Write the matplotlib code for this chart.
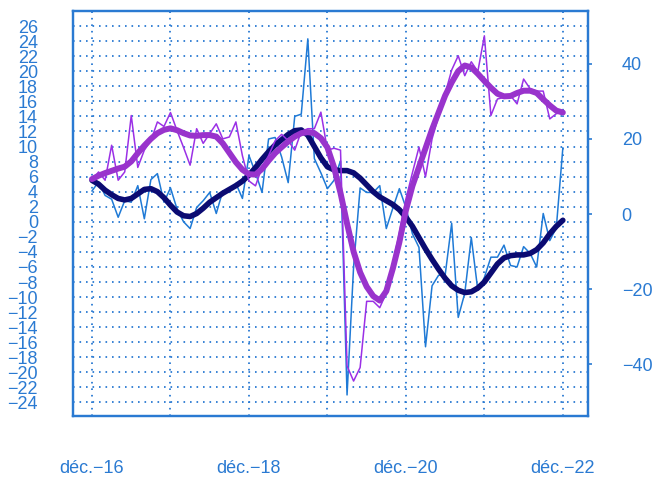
"""plot.py

Monthly balances (thin) and smoothed trends (thick), Dec-16 to Dec-22,
left scale for the blue series, right scale for the purple ones.
"""
import numpy as np
import matplotlib
matplotlib.use('Agg')
from matplotlib import pyplot as plt


#
# Parameters
#
colours = {'axis': '#2a7ad2',
           'blue': '#1f7ad6',
           'navy': '#0b0b72',
           'purple_thin': '#9b30e6',
           'purple_thick': '#9933cc'}
plt.rcParams['font.family'] = ['Liberation Sans', 'DejaVu Sans']


#
# Data (monthly, Dec-16 .. Dec-22)
#
months = np.arange(73)
year_ticks = [0, 24, 48, 72]
year_labels = [u'déc.\u221216', u'déc.\u221218', u'déc.\u221220', u'déc.\u221222']
odd_years = [12, 36, 60]

## Left scale
blue_monthly = [4.1, 5.3, 3.5, 3.0, 0.6, 2.8, 2.6, 4.8, 0.4, 5.6, 6.4, 2.6,
                4.5, 1.7, 0.0, -0.9, 1.9, 2.8, 3.9, 1.1, 4.1, 3.9, 5.1, 3.1,
                8.8, 6.5, 3.9, 11.0, 11.2, 8.6, 5.2, 14.0, 14.3, 24.3, 8.4, 6.5,
                4.4, 5.5, 8.1, -23.0, -6.0, 4.5, 3.9, 3.9, 4.8, -0.9, 1.8, 4.4,
                1.9, -1.6, -3.4, -16.6, -8.5, -7.1, -7.1, -0.2, -12.7, -9.5, -2.1, -9.1,
                -7.4, -4.7, -4.7, -3.1, -5.8, -6.0, -3.3, -4.2, -6.0, 1.1, -2.5, -0.8,
                9.8]
navy_trend = [5.5, 5.0, 4.2, 3.6, 3.1, 2.9, 3.1, 3.7, 4.3, 4.4, 4.0, 3.2,
              2.2, 1.3, 0.8, 0.7, 1.1, 1.8, 2.6, 3.2, 3.8, 4.3, 4.8, 5.4,
              6.2, 7.2, 8.3, 9.3, 10.2, 10.9, 11.6, 12.1, 12.2, 11.5, 10.0, 8.5,
              7.3, 6.9, 6.8, 6.8, 6.5, 5.8, 4.9, 4.0, 3.3, 2.8, 2.3, 1.6,
              0.6, -0.6, -2.1, -3.6, -5.0, -6.3, -7.5, -8.5, -9.1, -9.4, -9.3, -8.8,
              -8.0, -6.8, -5.6, -4.8, -4.5, -4.4, -4.4, -4.2, -3.7, -2.8, -1.6, -0.6,
              0.2]

## Right scale
purple_monthly = [9.0, 11.2, 9.0, 18.3, 9.0, 11.2, 26.2, 12.4, 17.0, 19.5, 24.5, 23.3,
                  27.0, 22.2, 17.7, 13.0, 22.7, 18.8, 21.4, 24.0, 20.0, 20.5, 24.5, 15.5,
                  8.8, 7.5, 12.5, 15.5, 19.5, 21.2, 19.5, 17.0, 22.0, 22.7, 22.7, 27.1,
                  17.0, 17.5, 17.0, -40.4, -44.4, -40.8, -23.2, -23.2, -24.9, -21.0, -13.0, -5.0,
                  4.0, 11.0, 17.8, 9.9, 20.0, 26.0, 32.0, 38.3, 42.1, 36.8, 40.5, 37.9,
                  47.4, 26.2, 30.6, 31.0, 31.5, 29.3, 35.9, 33.3, 32.7, 32.7, 25.3, 26.7,
                  27.1]
purple_trend = [9.3, 10.2, 10.9, 11.5, 12.1, 12.6, 14.0, 16.2, 18.2, 20.0, 21.5, 22.4,
                22.8, 22.3, 21.5, 20.9, 20.8, 21.0, 21.0, 20.6, 18.8, 16.3, 13.8, 11.8,
                10.6, 10.5, 12.0, 14.2, 16.2, 17.8, 19.3, 20.6, 21.5, 21.8, 21.5, 20.2,
                17.7, 12.5, 5.6, -2.5, -10.0, -15.5, -19.3, -21.8, -23.0, -20.5, -14.5, -7.5,
                1.0, 7.5, 12.5, 17.5, 22.5, 27.0, 31.5, 35.0, 38.0, 39.5, 39.0, 37.3,
                35.4, 33.6, 32.0, 31.3, 31.4, 32.2, 32.8, 32.8, 32.2, 30.5, 28.9, 27.5,
                27.0]

left_ticks = np.arange(-24, 27, 2)
right_ticks = [-40, -20, 0, 20, 40]


#
# Plot
#
fig = plt.figure(figsize=(6.57, 4.8), dpi=100)
ax = fig.add_axes([0.1107, 0.1333, 0.7848, 0.8438])
ax2 = ax.twinx()

ax.plot(months, blue_monthly, '-', lw=1.1, color=colours['blue'])
ax.plot(months, navy_trend, '-', lw=4.0, color=colours['navy'],
        solid_capstyle='round', solid_joinstyle='round')
ax2.plot(months, purple_monthly, '-', lw=1.1, color=colours['purple_thin'])
ax2.plot(months, purple_trend, '-', lw=4.3, color=colours['purple_thick'],
         solid_capstyle='round', solid_joinstyle='round')

## Scales
ax.set_xlim(-2.95, 75.9)
ax.set_ylim(-25.8, 28.0)
ax2.set_ylim(-53.7, 54.0)

ax.set_xticks(year_ticks)
ax.set_xticklabels(year_labels)
ax.set_xticks(odd_years, minor=True)
ax.set_yticks(left_ticks)
ax.set_yticklabels([('%d' % v).replace('-', u'\u2212') for v in left_ticks])
ax2.set_yticks(right_ticks)
ax2.set_yticklabels([('%d' % v).replace('-', u'\u2212') for v in right_ticks])

## Dotted grid
ax.grid(True, which='both', axis='x', color=colours['axis'],
        linestyle=(0, (0.9, 2.7)), lw=1.3)
ax.grid(True, which='major', axis='y', color=colours['axis'],
        linestyle=(0, (0.9, 2.7)), lw=1.3)

## Frame and ticks
for a in (ax, ax2):
    for side in a.spines.values():
        side.set_color(colours['axis'])
        side.set_linewidth(1.6)
ax.tick_params(axis='y', length=0, pad=25, labelsize=13, labelcolor=colours['axis'])
ax.tick_params(axis='x', which='both', length=0, pad=32, labelsize=13,
               labelcolor=colours['axis'])
ax2.tick_params(axis='y', length=3, width=1.2, color=colours['axis'], pad=21,
                labelsize=13, labelcolor=colours['axis'])

plt.savefig('out.png', dpi=100)
